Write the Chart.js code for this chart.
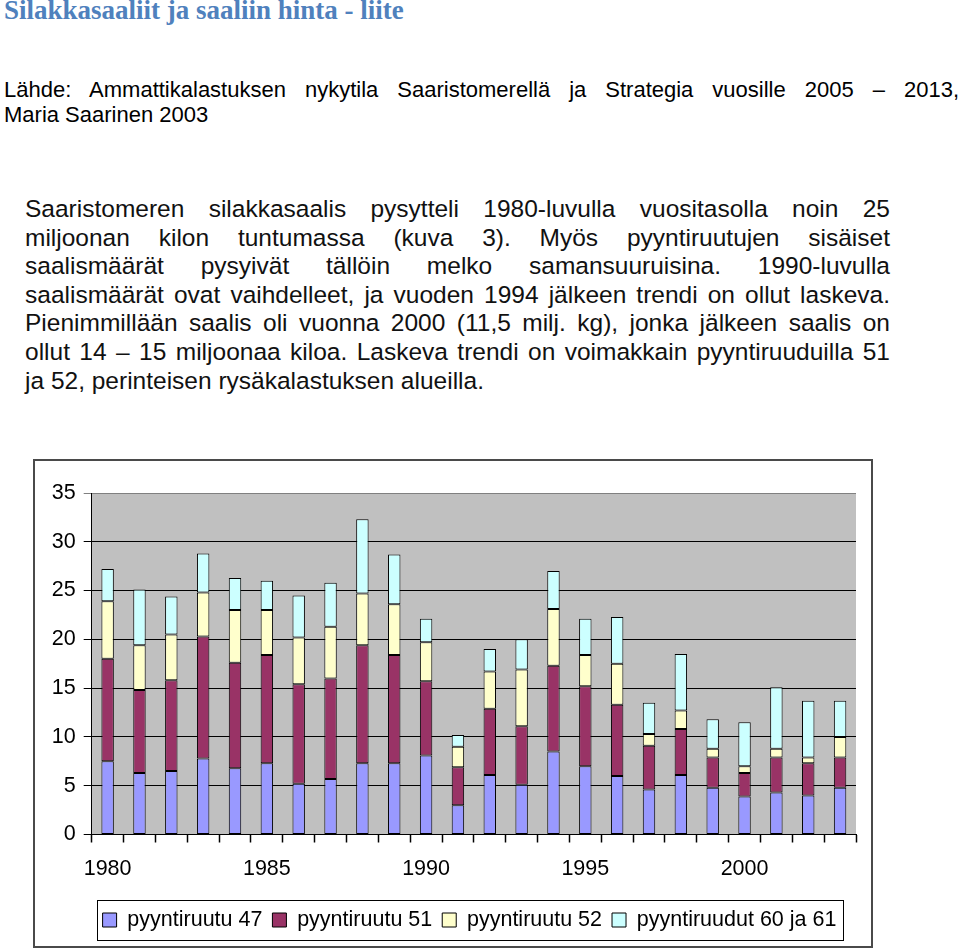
<!DOCTYPE html>
<html>
<head>
<meta charset="utf-8">
<script src="https://cdn.jsdelivr.net/npm/chart.js@4"></script>
<style>
  html, body { margin: 0; padding: 0; background: #fff; }
  body { width: 960px; height: 949px; position: relative; overflow: hidden; }
  .title { position: absolute; left: 4px; top: -3px; font: bold 27px/27px 'Liberation Serif', 'Times New Roman', serif; color: #4F81BD; white-space: nowrap; }
  .source { position: absolute; left: 4px; top: 77px; width: 955px; font: 22px/25px 'Liberation Sans', Arial, sans-serif; color: #000; }
  .para { position: absolute; left: 25px; top: 195px; width: 865px; font: 24.5px/28.6px 'Liberation Sans', Arial, sans-serif; color: #111; }
  .just { text-align: justify; text-align-last: justify; }
  .box { position: absolute; left: 33px; top: 459px; width: 840px; height: 489px; box-sizing: border-box; border: 2px solid #4a4a4a; }
  .box canvas { display: block; }
</style>
</head>
<body>
<div class="title">Silakkasaaliit ja saaliin hinta - liite</div>
<div class="source">
  <div class="just">Lähde: Ammattikalastuksen nykytila Saaristomerellä ja Strategia vuosille 2005 – 2013,</div>
  <div>Maria Saarinen 2003</div>
</div>
<div class="para">
  <div class="just">Saaristomeren silakkasaalis pysytteli 1980-luvulla vuositasolla noin 25</div>
  <div class="just">miljoonan kilon tuntumassa (kuva 3). Myös pyyntiruutujen sisäiset</div>
  <div class="just">saalismäärät pysyivät tällöin melko samansuuruisina. 1990-luvulla</div>
  <div class="just">saalismäärät ovat vaihdelleet, ja vuoden 1994 jälkeen trendi on ollut laskeva.</div>
  <div class="just">Pienimmillään saalis oli vuonna 2000 (11,5 milj. kg), jonka jälkeen saalis on</div>
  <div class="just">ollut 14 – 15 miljoonaa kiloa. Laskeva trendi on voimakkain pyyntiruuduilla 51</div>
  <div>ja 52, perinteisen rysäkalastuksen alueilla.</div>
</div>
<div class="box"><canvas id="catchChart" width="836" height="485"></canvas></div>

<script>
// Catch per fishing square, million kg
const years = ['1980','1981','1982','1983','1984','1985','1986','1987','1988','1989','1990','1991',
               '1992','1993','1994','1995','1996','1997','1998','1999','2000','2001','2002','2003'];
const ruutu47 = [7.5, 6.3, 6.5, 7.8, 6.8, 7.3, 5.2, 5.7, 7.3, 7.3, 8.1, 3.0, 6.1, 5.1, 8.5, 7.0, 6.0, 4.6, 6.1, 4.8, 3.9, 4.3, 4.0, 4.8];
const ruutu51 = [10.5, 8.5, 9.3, 12.5, 10.8, 11.1, 10.2, 10.3, 12.1, 11.1, 7.6, 3.9, 6.8, 6.0, 8.8, 8.2, 7.3, 4.5, 4.7, 3.1, 2.4, 3.6, 3.3, 3.1];
const ruutu52 = [5.9, 4.6, 4.7, 4.5, 5.4, 4.6, 4.8, 5.3, 5.3, 5.2, 4.0, 2.1, 3.8, 5.8, 5.8, 3.2, 4.2, 1.2, 1.9, 0.9, 0.7, 0.9, 0.6, 2.1];
const ruutu60 = [3.3, 5.7, 3.9, 4.0, 3.3, 3.0, 4.3, 4.5, 7.6, 5.1, 2.4, 1.2, 2.3, 3.1, 3.9, 3.7, 4.8, 3.2, 5.8, 3.0, 4.5, 6.3, 5.8, 3.7];
const seriesNames = ['pyyntiruutu 47', 'pyyntiruutu 51', 'pyyntiruutu 52', 'pyyntiruudut 60 ja 61'];
const yTicks = [0, 5, 10, 15, 20, 25, 30, 35];

const FONT = "'Liberation Sans', Arial, sans-serif";
const colors = ['#9999FF', '#993366', '#FFFFCC', '#CCFFFF'];

// grey plot background like the old Excel charts
const plotBg = {
    id: 'plotBg',
    beforeDraw(chart) {
        const { ctx, chartArea: a } = chart;
        ctx.save();
        ctx.fillStyle = '#C0C0C0';
        ctx.fillRect(a.left, a.top, a.right - a.left, a.bottom - a.top);
        ctx.restore();
    }
};

// legend sits centred under the plot area, with a frame round it
const legendFrame = {
    id: 'legendFrame',
    afterLayout(chart) {
        chart.legend.left += 24;
        chart.legend.right += 24;
    },
    afterDraw(chart) {
        const boxes = chart.legend.legendHitBoxes;
        if (!boxes || !boxes.length) return;
        const first = boxes[0], last = boxes[boxes.length - 1];
        const x1 = Math.round(first.left - 6) + 0.5;
        const x2 = Math.round(last.left + last.width + 7) + 0.5;
        const y1 = Math.round(first.top - 9) + 0.5;
        const y2 = Math.round(first.top + first.height + 9) + 0.5;
        const ctx = chart.ctx;
        ctx.save();
        ctx.strokeStyle = '#000';
        ctx.lineWidth = 1;
        ctx.strokeRect(x1, y1, x2 - x1, y2 - y1);
        ctx.restore();
    }
};

const values = [ruutu47, ruutu51, ruutu52, ruutu60];

new Chart(document.getElementById('catchChart').getContext('2d'), {
    type: 'bar',
    data: {
        labels: years,
        datasets: seriesNames.map((name, i) => ({
            label: name,
            data: values[i],
            backgroundColor: colors[i],
            borderColor: '#000',
            borderWidth: 1,
            borderSkipped: false,
            barPercentage: 0.39,
            categoryPercentage: 1
        }))
    },
    options: {
        responsive: false,
        animation: false,
        layout: { padding: { top: 32, right: 15, bottom: 5.25, left: 0 } },
        plugins: {
            tooltip: { enabled: false },
            legend: {
                position: 'bottom',
                labels: {
                    boxWidth: 14,
                    boxHeight: 14,
                    padding: 10,
                    color: '#000',
                    font: { family: FONT, size: 21.5 }
                }
            }
        },
        scales: {
            x: {
                stacked: true,
                grid: {
                    offset: true,
                    drawOnChartArea: false,
                    drawTicks: true,
                    tickLength: 8,
                    lineWidth: 1,
                    color: '#000',
                    tickColor: '#000',
                    tickWidth: 1.5
                },
                border: { color: '#000' },
                ticks: {
                    autoSkip: false,
                    maxRotation: 0,
                    padding: 14,
                    color: '#000',
                    font: { family: FONT, size: 21.5 },
                    callback: (v, i) => (Number(years[i]) % 5 === 0 ? years[i] : '')
                },
                afterFit(scale) { scale.height = 64.75; }
            },
            y: {
                stacked: true,
                min: 0,
                max: 35,
                afterBuildTicks(scale) { scale.ticks = yTicks.map(v => ({ value: v })); },
                grid: {
                    tickLength: 8,
                    color: ctx => (ctx.tick && ctx.tick.value === 35 ? '#808080' : '#000')
                },
                border: { color: '#000' },
                ticks: { padding: 8, color: '#000', font: { family: FONT, size: 21.5 } },
                afterFit(scale) { scale.width = 56.7; }
            }
        }
    },
    plugins: [plotBg, legendFrame]
});
</script>
</body>
</html>
